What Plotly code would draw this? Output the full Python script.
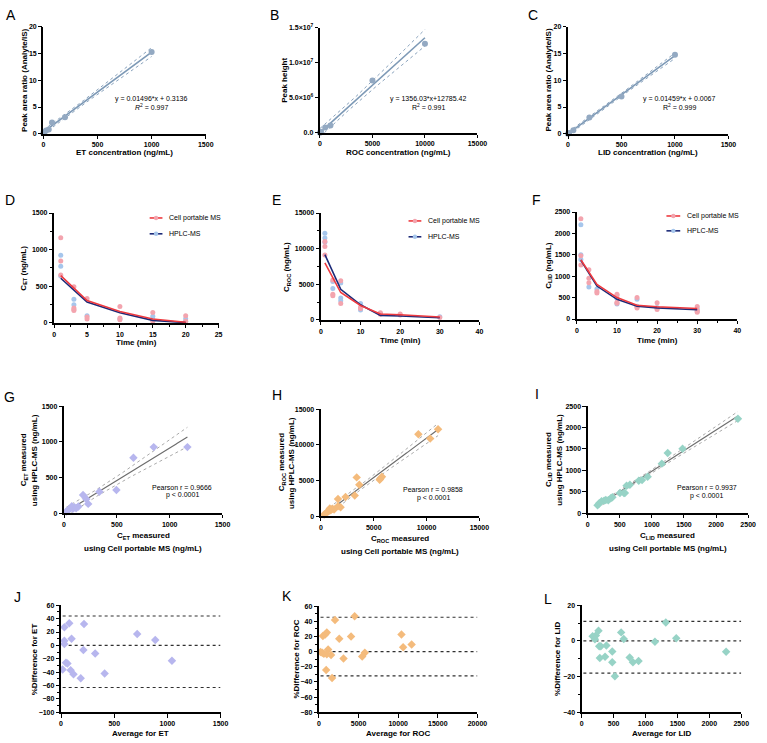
import numpy as np
import plotly.graph_objects as go

W, H = 767, 743
FONT = "Liberation Sans, Arial, sans-serif"

# ---------------- DATA ----------------
# A: ET calibration
a_x = [0, 10, 25, 50, 80, 200, 1000]
a_y = [0.1, 0.3, 0.6, 0.8, 2.1, 3.1, 15.3]
a_fit = (0.01496, 0.3136)
# B: ROC calibration
b_x = [0, 50, 100, 500, 1000, 5000, 10000]
b_y = [0.01e6, 0.1e6, 0.15e6, 0.75e6, 1.04e6, 7.45e6, 12.7e6]
b_fit = (1356.03, 12785.42)
# C: LID calibration
c_x = [0, 10, 50, 200, 500, 1000]
c_y = [0.02, 0.15, 0.68, 3.05, 6.95, 14.75]
c_fit = (0.01459, 0.0067)

# D: ET time course
d_t_line = [1, 5, 10, 15, 20]
d_cell_mean = [645, 305, 155, 55, 10]
d_hplc_mean = [610, 285, 140, 35, 5]
d_cell_t = [1, 1, 1, 3, 3, 3, 3, 5, 5, 5, 10, 10, 10, 15, 15, 20, 20]
d_cell_v = [1162, 847, 653, 495, 203, 185, 171, 335, 81, 54, 225, 68, 45, 144, 22, 99, 22]
d_hplc_t = [1, 1, 1, 3, 3, 5, 10, 15, 15, 20, 20]
d_hplc_v = [923, 775, 640, 324, 248, 99, 54, 90, 45, 58, 18]

# E: ROC time course
e_t_line = [1, 5, 10, 15, 20, 30]
e_cell_mean = [8000, 3850, 2040, 830, 740, 420]
e_hplc_mean = [9170, 4300, 2130, 650, 560, 320]
e_cell_t = [1, 1, 1, 3, 3, 3, 5, 5, 10, 10, 15, 15, 20, 20, 30]
e_cell_v = [11000, 10300, 9100, 5600, 3600, 3400, 5500, 2300, 1800, 1600, 1000, 800, 850, 700, 350]
e_hplc_t = [1, 1, 1, 3, 3, 5, 5, 5, 10, 10, 15, 30]
e_hplc_v = [12150, 11500, 10900, 5400, 4400, 3100, 2700, 5200, 2300, 1400, 900, 450]

# F: LID time course
f_t_line = [1, 5, 10, 15, 20, 30]
f_cell_mean = [1385, 808, 500, 323, 285, 246]
f_hplc_mean = [1370, 770, 460, 300, 260, 215]
f_cell_t = [1, 1, 1, 3, 3, 3, 5, 5, 10, 10, 10, 10, 15, 15, 15, 20, 20, 20, 30, 30, 30]
f_cell_v = [2340, 1480, 1260, 1150, 950, 850, 640, 610, 580, 550, 390, 370, 500, 280, 260, 380, 250, 220, 290, 200, 160]
f_hplc_t = [1, 1, 1, 3, 5, 10, 10, 15, 15, 20, 30, 30]
f_hplc_v = [2200, 1500, 1390, 750, 700, 350, 480, 460, 300, 270, 240, 180]

# G: ET correlation
g_x = [1168, 849, 657, 496, 335, 229, 211, 180, 136, 99, 74, 53, 37, 22, 84, 115]
g_y = [926, 926, 778, 324, 301, 130, 199, 255, 93, 83, 97, 60, 37, 23, 60, 70]
g_r = "0.9666"
# H: ROC correlation
h_x = [11087, 10342, 9224, 5776, 5621, 5559, 3385, 3633, 3199, 2329, 1615, 1863, 1615, 1087, 932, 714, 528, 310, 839, 1242]
h_y = [12169, 10869, 11472, 5527, 5249, 5109, 5434, 4412, 2880, 2694, 2415, 1254, 1393, 1022, 836, 697, 464, 232, 1068, 929]
h_r = "0.9858"
# I: LID correlation
i_x = [2341, 1478, 1247, 1155, 934, 847, 796, 657, 606, 565, 503, 385, 359, 257, 216, 180, 154, 282, 320, 580]
i_y = [2207, 1505, 1404, 1157, 849, 772, 756, 664, 640, 471, 471, 370, 347, 293, 278, 231, 185, 309, 300, 470]
i_r = "0.9937"

# J-L: Bland-Altman
j_x = [31, 77, 216, 31, 31, 99, 716, 886, 210, 321, 1043, 46, 60, 15, 90, 117, 185, 410]
j_y = [27, 33, 32, 7, 2, 10, 17, 8, -7, -12, -23, -26, -27, -36, -37, -43, -49, -42]
j_lines = [44, 0, -63]
k_x = [4504, 2025, 496, 785, 992, 2562, 4050, 10413, 10620, 11694, 413, 620, 1157, 992, 1529, 3099, 5455, 5785, 909, 1653, 207]
k_y = [46.8, 42, 20.6, 22.7, 25.4, 17, 20, 22.7, 6, 9.6, -1.3, -2.6, 3, -3.5, -4.4, -8.9, -6.3, -1.3, -24.2, -34.8, -0.4]
k_lines = [45.5, 0, -32]
l_x = [1317, 1481, 1147, 2263, 617, 658, 262, 221, 170, 206, 273, 298, 386, 478, 365, 283, 751, 802, 890, 478, 519]
l_y = [10.4, 1.5, -0.4, -6.1, 4.8, 1.1, 5.7, 3, 2.6, 0.9, -3, -3, -2.6, -5.9, -8.9, -9.6, -9.3, -12, -11.3, -12, -19.8]
l_lines = [11, 0, -18]

# ---------------- HELPERS ----------------
T975 = {1: 12.706, 2: 4.303, 3: 3.182, 4: 2.776, 5: 2.571, 6: 2.447, 7: 2.365, 8: 2.306,
        9: 2.262, 10: 2.228, 12: 2.179, 14: 2.145, 16: 2.120, 18: 2.101, 20: 2.086, 25: 2.060, 30: 2.042}


def tval(df):
    keys = [k for k in T975 if k <= df]
    return T975[max(keys)]


def band(xs, ys, slope, intercept, grid):
    xs = np.asarray(xs, float); ys = np.asarray(ys, float)
    n = len(xs)
    res = ys - (slope * xs + intercept)
    se = np.sqrt(np.sum(res ** 2) / (n - 2))
    xm = xs.mean(); sxx = np.sum((xs - xm) ** 2)
    hw = tval(n - 2) * se * np.sqrt(1.0 / n + (grid - xm) ** 2 / sxx)
    mid = slope * grid + intercept
    return mid, mid - hw, mid + hw


def px(x):
    return x / W


def py(y):
    return 1 - y / H


fig = go.Figure()
layout = dict(width=W, height=H, margin=dict(l=0, r=0, t=0, b=0),
              plot_bgcolor="white", paper_bgcolor="white", showlegend=False,
              font=dict(family=FONT, color="black", size=8))
annotations = []
shapes = []

AX = dict(showline=True, linecolor="black", linewidth=1.5, ticks="outside", ticklen=3.5,
          tickwidth=1.3, tickcolor="black", showgrid=False, zeroline=False, fixedrange=True,
          tickformat="d",
          tickfont=dict(family=FONT, size=7, color="black", weight=700))


def add_axes(i, box, xr, yr, xdt, ydt, xminor=None, yminor=None, ytv=None, ytt=None):
    x0, x1, y0, y1 = box
    sx = "" if i == 1 else str(i)
    xa = dict(AX, domain=[px(x0), px(x1)], range=xr, anchor="y" + sx, tickmode="linear",
              tick0=xr[0], dtick=xdt)
    ya = dict(AX, domain=[py(y1), py(y0)], range=yr, anchor="x" + sx, tickmode="linear",
              tick0=yr[0], dtick=ydt)
    if xminor:
        xa["minor"] = dict(dtick=xminor, tick0=xr[0], ticks="outside", ticklen=2, tickwidth=1.1,
                           tickcolor="black", showgrid=False)
    if yminor:
        ya["minor"] = dict(dtick=yminor, tick0=yr[0], ticks="outside", ticklen=2, tickwidth=1.1,
                           tickcolor="black", showgrid=False)
    if ytv is not None:
        ya.update(tickmode="array", tickvals=ytv, ticktext=ytt)
    layout["xaxis" + sx] = xa
    layout["yaxis" + sx] = ya
    return "x" + sx, "y" + sx


def text(x, y, s, size=8, bold=True, angle=0, anchor="center"):
    annotations.append(dict(x=px(x), y=py(y), xref="paper", yref="paper", text=s, showarrow=False,
                            textangle=angle, xanchor=anchor, yanchor="middle",
                            font=dict(family=FONT, size=size, color="black",
                                      weight=700 if bold else 400)))


def letter(x, y, s):
    text(x, y, s, size=14, bold=False)


# ---------------- ROW 1: calibration ----------------
CAL_LINE = "#7d99b6"
CAL_PT = "#93a9c2"
cal = [
    (1, (42, 207, 23, 131), [0, 1500], [0, 20], 500, 5, a_x, a_y, a_fit, None, None,
     "ET concentration (ng/mL)", "Peak area ratio (Analyte/IS)", 23, 1000,
     ["y = 0.01496*x + 0.3136", "<i>R</i><sup>2</sup> = 0.997"], 152, "A", (9, 11)),
    (2, (323, 483, 24, 130), [0, 15000], [0, 1.5e7], 5000, 5e6, b_x, b_y, b_fit,
     [0, 5e6, 1e7, 1.5e7], ["0.0", "5.0×10<sup>6</sup>", "1.0×10<sup>7</sup>", "1.5×10<sup>7</sup>"],
     "ROC concentration (ng/mL)", "Peak height", 287, 10000,
     ["y = 1356.03*x+12785.42", "R<sup>2</sup> = 0.991"], 433, "B", (277, 11)),
    (3, (575, 738, 23, 131), [0, 1500], [0, 20], 500, 5, c_x, c_y, c_fit, None, None,
     "LID concentration (ng/mL)", "Peak area ratio (Analyte/IS)", 555, 1000,
     ["y = 0.01459*x + 0.0067", "R<sup>2</sup> = 0.999"], 688, "C", (539, 11)),
]
for (i, box, xr, yr, xdt, ydt, xs, ys, fit, ytv, ytt, xt, yt, ytx, xend, eq, eqx, L, lpos) in cal:
    xa, ya = add_axes(i, box, xr, yr, xdt, ydt, ytv=ytv, ytt=ytt)
    grid = np.linspace(0, xend, 120)
    mid, lo, hi = band(xs, ys, fit[0], fit[1], grid)
    for yy in (lo, hi):
        fig.add_trace(go.Scatter(x=grid, y=yy, mode="lines", xaxis=xa, yaxis=ya,
                                 line=dict(color=CAL_LINE, width=0.9, dash="dot"), hoverinfo="skip"))
    fig.add_trace(go.Scatter(x=grid, y=mid, mode="lines", xaxis=xa, yaxis=ya,
                             line=dict(color=CAL_LINE, width=1.6), hoverinfo="skip"))
    fig.add_trace(go.Scatter(x=xs, y=ys, mode="markers", xaxis=xa, yaxis=ya, cliponaxis=False,
                             marker=dict(color=CAL_PT, size=6, symbol="circle")))
    text((box[0] + box[1]) / 2, 150, xt, size=8)
    text(ytx, (box[2] + box[3]) / 2, yt, size=8, angle=-90)
    text(eqx, 96, eq[0], size=7, bold=False)
    text(eqx, 104, eq[1], size=7, bold=False)
    letter(lpos[0], lpos[1], L)

# ---------------- ROW 2: time courses ----------------
RED = "#ee3a3f"
NAVY = "#1c2a78"
PINK = "#f3a4ae"
LBLUE = "#a6c6ec"
tc = [
    (4, (53, 220, 211, 322), [0, 25], [0, 1500], 5, 500, 2.5, 250,
     d_t_line, d_cell_mean, d_hplc_mean, d_cell_t, d_cell_v, d_hplc_t, d_hplc_v,
     "C<sub>ET</sub> (ng/mL)", 22, 342, (150, 163, 168, 216, 232), "D", (8, 198)),
    (5, (324, 485, 211, 319), [0, 40], [0, 15000], 10, 5000, 5, 2500,
     e_t_line, e_cell_mean, e_hplc_mean, e_cell_t, e_cell_v, e_hplc_t, e_hplc_v,
     "C<sub>ROC</sub> (ng/mL)", 289, 340, (413, 426, 431, 219, 235), "E", (279, 198)),
    (6, (584, 747, 210, 318), [0, 40], [0, 2500], 10, 500, 5, None,
     f_t_line, f_cell_mean, f_hplc_mean, f_cell_t, f_cell_v, f_hplc_t, f_hplc_v,
     "C<sub>LID</sub> (ng/mL)", 555, 340, (675, 689, 694, 214, 229), "F", (543, 198)),
]
for (i, box, xr, yr, xdt, ydt, xmi, ymi, tl, cm, hm, ct, cv, ht, hv, yt, ytx, xty, lg, L, lpos) in tc:
    xa, ya = add_axes(i, box, xr, yr, xdt, ydt, xminor=xmi, yminor=ymi)
    fig.add_trace(go.Scatter(x=ht, y=hv, mode="markers", xaxis=xa, yaxis=ya, cliponaxis=False,
                             marker=dict(color=LBLUE, size=5)))
    fig.add_trace(go.Scatter(x=ct, y=cv, mode="markers", xaxis=xa, yaxis=ya, cliponaxis=False,
                             marker=dict(color=PINK, size=5)))
    fig.add_trace(go.Scatter(x=tl, y=hm, mode="lines", xaxis=xa, yaxis=ya,
                             line=dict(color=NAVY, width=1.6)))
    fig.add_trace(go.Scatter(x=tl, y=cm, mode="lines", xaxis=xa, yaxis=ya,
                             line=dict(color=RED, width=1.6)))
    text((box[0] + box[1]) / 2, xty, "Time (min)", size=8)
    text(ytx, (box[2] + box[3]) / 2, yt, size=8, angle=-90)
    lx0, lx1, tx, y1, y2 = lg
    for (yy, lc, mc, lab) in ((y1, RED, PINK, "Cell portable MS"), (y2, NAVY, LBLUE, "HPLC-MS")):
        shapes.append(dict(type="line", xref="paper", yref="paper", x0=px(lx0), x1=px(lx1),
                           y0=py(yy), y1=py(yy), line=dict(color=lc, width=1.6)))
        shapes.append(dict(type="circle", xref="paper", yref="paper", xsizemode="pixel",
                           ysizemode="pixel", xanchor=px((lx0 + lx1) / 2), yanchor=py(yy),
                           x0=-2.2, x1=2.2, y0=-2.2, y1=2.2, fillcolor=mc, line=dict(width=0)))
        text(tx, yy, lab, size=7, bold=False, anchor="left")
    letter(lpos[0], lpos[1], L)

# ---------------- ROW 3: correlations ----------------
REG = "#6e6e6e"
BAND = "#a0a0a0"
corr = [
    (7, (63, 224, 406, 514), [0, 1500], [0, 1500], 500, 500, g_x, g_y, "#b7b6ee", g_r, "ET",
     (22, 33), (537, 550), (183, 488, 496), "G", (8, 397)),
    (8, (324, 485, 409, 517), [0, 15000], [0, 15000], 5000, 5000, h_x, h_y, "#f4bb7c", h_r, "ROC",
     (284, 294), (540, 553), (438, 490, 499), "H", (279, 395)),
    (9, (595, 758, 406, 514), [0, 2500], [0, 2500], 500, 500, i_x, i_y, "#97d3c6", i_r, "LID",
     (555, 567), (537, 550), (716, 488, 497), "I", (544, 394)),
]
for (i, box, xr, yr, xdt, ydt, xs, ys, col, r, nm, ytxs, xtys, ptxt, L, lpos) in corr:
    xa, ya = add_axes(i, box, xr, yr, xdt, ydt)
    slope, intercept = np.polyfit(xs, ys, 1)
    grid = np.linspace(min(xs), max(xs), 120)
    mid, lo, hi = band(xs, ys, slope, intercept, grid)
    for yy in (lo, hi):
        fig.add_trace(go.Scatter(x=grid, y=yy, mode="lines", xaxis=xa, yaxis=ya,
                                 line=dict(color=BAND, width=0.9, dash="dot"), hoverinfo="skip"))
    fig.add_trace(go.Scatter(x=grid, y=mid, mode="lines", xaxis=xa, yaxis=ya,
                             line=dict(color=REG, width=1.2), hoverinfo="skip"))
    fig.add_trace(go.Scatter(x=xs, y=ys, mode="markers", xaxis=xa, yaxis=ya, cliponaxis=False,
                             marker=dict(color=col, size=6.5, symbol="diamond")))
    cx = (box[0] + box[1]) / 2
    cy = (box[2] + box[3]) / 2
    text(cx, xtys[0], "C<sub>%s</sub> measured" % nm, size=8)
    text(cx, xtys[1], "using Cell portable MS (ng/mL)", size=8)
    text(ytxs[0], cy, "C<sub>%s</sub> measured" % nm, size=8, angle=-90)
    text(ytxs[1], cy, "using HPLC-MS (ng/mL)", size=8, angle=-90)
    text(ptxt[0], ptxt[1], "Pearson r = " + r, size=7, bold=False)
    text(ptxt[0], ptxt[2], "p &lt; 0.0001", size=7, bold=False)
    letter(lpos[0], lpos[1], L)

# ---------------- ROW 4: Bland-Altman ----------------
ba = [
    (10, (60, 222, 607, 715), [0, 1500], [-100, 60], 500, 20, 10, j_x, j_y, j_lines, "#b7b6ee", "ET",
     33, "J", (16, 599)),
    (11, (322, 483, 608, 715), [0, 20000], [-80, 60], 5000, 20, 10, k_x, k_y, k_lines, "#f4bb7c", "ROC",
     299, "K", (290, 598)),
    (12, (589, 751, 607, 715), [0, 2500], [-40, 20], 500, 20, 10, l_x, l_y, l_lines, "#97d3c6", "LID",
     565, "L", (555, 601)),
]
for (i, box, xr, yr, xdt, ydt, ymi, xs, ys, lines, col, nm, ytx, L, lpos) in ba:
    xa, ya = add_axes(i, box, xr, yr, xdt, ydt, yminor=ymi)
    for v in lines:
        fig.add_trace(go.Scatter(x=[xr[0] + (xr[1] - xr[0]) * 0.01, xr[1]], y=[v, v], mode="lines",
                                 xaxis=xa, yaxis=ya, line=dict(color="#303030", width=1.2, dash="dot"),
                                 hoverinfo="skip"))
    fig.add_trace(go.Scatter(x=xs, y=ys, mode="markers", xaxis=xa, yaxis=ya, cliponaxis=False,
                             marker=dict(color=col, size=6.5, symbol="diamond")))
    text((box[0] + box[1]) / 2, 736, "Average for " + nm, size=8)
    text(ytx, (box[2] + box[3]) / 2, "%Difference for " + nm, size=8, angle=-90)
    letter(lpos[0], lpos[1], L)

layout["annotations"] = annotations
layout["shapes"] = shapes
fig.update_layout(**layout)
fig.write_html("out.html")
